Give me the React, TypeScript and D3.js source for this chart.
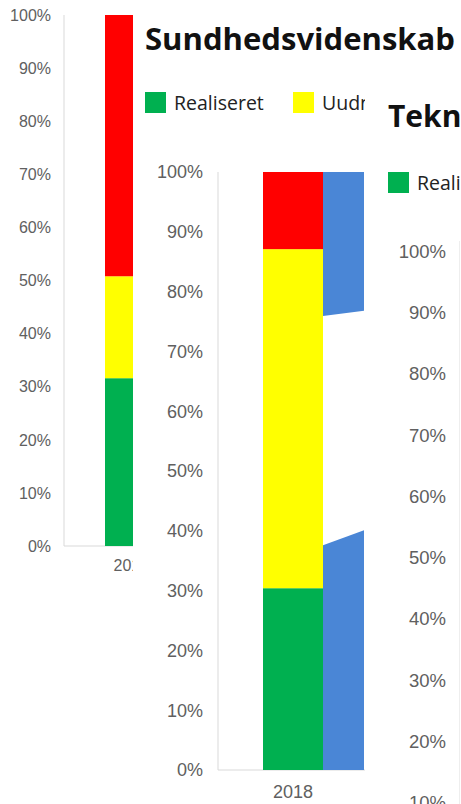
import React from "react";
import * as d3 from "d3";

// ---- data ----
const categories = ["2018"];
const seriesNames = ["Realiseret", "Uudnyttet", "Mangler"];
const seriesColors = ["#00B050", "#FFFF00", "#FF0000"];
// panel 1 (back, left) shares
const panel1Values = [0.316, 0.192, 0.492];
// panel 2 (front, Sundhedsvidenskab) shares
const panel2Values = [0.304, 0.567, 0.129];
// blue shape next to panel 2 bar (percent at left / right edge)
const blueTop = [
  { x: 0, hi: 1.0, lo: 0.759 },
  { x: 1, hi: 1.0, lo: 0.768 },
];
const blueBottom = [
  { x: 0, hi: 0.376, lo: 0 },
  { x: 1, hi: 0.401, lo: 0 },
];
const tickValues = d3.range(0, 11).map((d) => d / 10);
const titles = ["Sundhedsvidenskab", "Teknisk"];
const legendLabels2 = ["Realiseret", "Uudnyttet"];
const legendLabels3 = ["Realiseret"];

const pct = d3.format(".0%");
const FONT_AX = "'Liberation Sans', Arial, sans-serif";
const FONT_T = "'Open Sans', 'Noto Sans', sans-serif";
const TICK_COLOR = "#606060";
const AXIS_COLOR = "#d9d9d9";

function stack(values: number[]) {
  let acc = 0;
  return values.map((v, i) => {
    const s = { y0: acc, y1: acc + v, color: seriesColors[i], name: seriesNames[i] };
    acc += v;
    return s;
  });
}

export default function App() {
  // Panel 1
  const y1 = d3.scaleLinear().domain([0, 1]).range([546, 15]);
  const x1 = d3.scaleBand().domain(categories).range([84, 154]).paddingOuter(0.75);
  const p1 = stack(panel1Values);

  // Panel 2
  const y2 = d3.scaleLinear().domain([0, 1]).range([770, 172]);
  const x2 = d3.scaleBand().domain(categories).range([233, 353]).paddingOuter(0.5);
  const p2 = stack(panel2Values);
  const bx0 = (x2(categories[0]) as number) + x2.bandwidth();
  const xb = d3.scaleLinear().domain([0, 1]).range([bx0, bx0 + 41]);
  const blueArea = d3
    .area<{ x: number; hi: number; lo: number }>()
    .x((d) => xb(d.x))
    .y0((d) => y2(d.lo))
    .y1((d) => y2(d.hi));

  // Panel 3
  const y3 = d3.scaleLinear().domain([0, 1]).range([864, 251]);

  return (
    <svg
      width={461}
      height={804}
      style={{ position: "absolute", left: 0, top: 0, background: "#fff" }}
    >
      {/* ---------- Panel 1 ---------- */}
      <g>
        <rect x={0} y={0} width={134} height={804} fill="#fff" />
        <line x1={64} x2={64} y1={y1(1)} y2={y1(0)} stroke={AXIS_COLOR} />
        <line x1={64} x2={160} y1={y1(0)} y2={y1(0)} stroke={AXIS_COLOR} />
        {tickValues.map((t) => (
          <text
            key={t}
            x={51}
            y={y1(t)}
            dy="0.36em"
            textAnchor="end"
            fontFamily={FONT_AX}
            fontSize={16}
            fill={TICK_COLOR}
          >
            {pct(t)}
          </text>
        ))}
        {p1.map((s) => (
          <rect
            key={s.name}
            x={x1(categories[0])}
            width={x1.bandwidth()}
            y={y1(s.y1)}
            height={y1(s.y0) - y1(s.y1)}
            fill={s.color}
          />
        ))}
        <text x={113.5} y={571} fontFamily={FONT_AX} fontSize={16} fill={TICK_COLOR}>
          {categories[0]}
        </text>
      </g>

      {/* ---------- Panel 2 ---------- */}
      <g>
        <rect x={133} y={0} width={340} height={804} fill="#fff" />
        <text
          x={145}
          y={50}
          fontFamily={FONT_T}
          fontWeight={700}
          fontSize={30}
          fill="#111"
          textLength={310}
          lengthAdjust="spacingAndGlyphs"
        >
          {titles[0]}
        </text>
        {legendLabels2.map((l, i) => (
          <g key={l} transform={`translate(${145 + i * 148},92)`}>
            <rect width={21} height={21} fill={seriesColors[i]} />
            <text x={29} y={18} fontFamily={FONT_T} fontSize={19.5} fill="#222">
              {l}
            </text>
          </g>
        ))}
        <line x1={218} x2={218} y1={y2(1)} y2={y2(0)} stroke={AXIS_COLOR} />
        <line x1={218} x2={400} y1={y2(0)} y2={y2(0)} stroke={AXIS_COLOR} />
        {tickValues.map((t) => (
          <text
            key={t}
            x={203}
            y={y2(t)}
            dy="0.36em"
            textAnchor="end"
            fontFamily={FONT_AX}
            fontSize={18}
            fill={TICK_COLOR}
          >
            {pct(t)}
          </text>
        ))}
        {p2.map((s) => (
          <rect
            key={s.name}
            x={x2(categories[0])}
            width={x2.bandwidth()}
            y={y2(s.y1)}
            height={y2(s.y0) - y2(s.y1)}
            fill={s.color}
          />
        ))}
        <path d={blueArea(blueTop) || ""} fill="#4A86D6" />
        <path d={blueArea(blueBottom) || ""} fill="#4A86D6" />
        <text
          x={(x2(categories[0]) as number) + x2.bandwidth() / 2}
          y={798}
          textAnchor="middle"
          fontFamily={FONT_AX}
          fontSize={18}
          fill={TICK_COLOR}
        >
          {categories[0]}
        </text>
      </g>

      {/* ---------- Panel 3 ---------- */}
      <g>
        <rect x={365} y={86} width={120} height={760} fill="#fff" />
        <text x={388} y={127} fontFamily={FONT_T} fontWeight={700} fontSize={30} fill="#111">
          {titles[1]}
        </text>
        {legendLabels3.map((l, i) => (
          <g key={l} transform={`translate(388,172)`}>
            <rect width={21} height={21} fill={seriesColors[i]} />
            <text x={29} y={18} fontFamily={FONT_T} fontSize={19.5} fill="#222">
              {l}
            </text>
          </g>
        ))}
        <line x1={459.5} x2={459.5} y1={y3(1) - 10} y2={804} stroke="#eeeeee" />
        {tickValues.map((t) => (
          <text
            key={t}
            x={446}
            y={y3(t)}
            dy="0.36em"
            textAnchor="end"
            fontFamily={FONT_AX}
            fontSize={18.5}
            fill={TICK_COLOR}
          >
            {pct(t)}
          </text>
        ))}
      </g>
    </svg>
  );
}
